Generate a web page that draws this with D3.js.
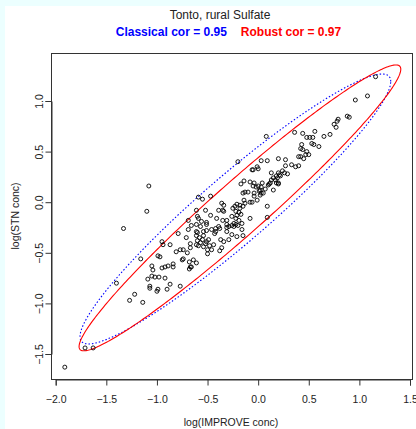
<!DOCTYPE html>
<html>
<head>
<meta charset="utf-8">
<script src="https://cdn.jsdelivr.net/npm/d3@7"></script>
<style>
  body { margin: 0; background: #ecffff; }
  text { font-family: "Liberation Sans", Arial, sans-serif; fill: #222; }
</style>
</head>
<body>
<div id="chart"></div>
<script>
// log(IMPROVE conc) values
const xs = [1.16,1.08,0.96,0.88,0.90,0.79,0.78,0.75,0.77,0.71,0.65,0.56,0.44,0.36,0.51,0.54,0.48,0.08,0.55,0.53,
  0.60,0.43,0.42,0.44,0.48,0.47,0.40,0.42,0.50,0.45,0.20,0.27,0.27,0.33,0.37,0.40,0.03,0.09,-0.20,-0.05,
  0.00,0.13,0.20,0.24,0.26,0.29,0.22,0.18,0.15,0.19,0.12,0.11,0.13,0.20,0.04,0.00,-0.04,-0.14,-0.17,0.03,
  0.01,0.03,0.07,0.15,0.09,-0.13,-0.10,-0.04,-0.04,-0.08,-0.14,-0.18,-0.23,-0.25,-0.18,-0.19,-0.22,-0.21,-0.26,-0.35,
  -0.34,-0.47,-0.55,-0.47,-0.41,-0.08,-1.08,-0.59,-1.10,-0.59,-0.21,-0.15,0.09,-0.22,-0.31,-0.35,-0.51,-0.51,-0.46,-0.42,
  -0.38,-0.31,-0.24,-0.22,-0.20,-0.24,-0.31,-0.42,-0.43,-0.54,-0.37,-0.34,-0.44,-0.49,-0.48,-0.50,-0.57,-0.16,-0.15,-0.36,
  -0.57,-0.95,-0.97,-0.92,-0.89,-0.84,-0.84,-0.92,-0.79,-0.71,-0.77,-0.74,-0.75,-0.67,-0.68,-0.64,-0.66,-0.61,-0.58,-0.60,
  -0.55,-0.59,-0.54,-0.52,-0.50,-0.46,-0.39,-0.38,-0.29,-0.31,-0.26,-0.17,-0.19,-0.16,-0.26,-0.21,-0.29,-0.15,-0.13,-0.06,
  -0.01,-0.08,-0.05,-0.02,0.02,0.02,0.05,0.10,0.17,0.18,0.20,0.21,-0.01,-0.06,-0.36,-0.39,-0.54,-0.56,-0.51,-0.66,
  -0.69,-0.60,-0.34,-0.61,-0.52,-0.69,-0.81,-0.87,-0.94,-1.33,-0.61,-0.60,-0.70,-0.67,-0.61,-0.61,-0.51,-0.99,-1.16,-1.05,
  -1.04,-0.95,-0.74,-0.67,-0.68,-0.61,-1.05,-1.09,-1.02,-0.98,-1.40,-1.07,-1.07,-0.99,-1.00,-0.87,-0.90,-0.77,-1.22,-1.27,
  -1.14,-1.71,-1.63,-1.91];
// log(STN conc) values, same order
const ys = [1.24,1.05,1.01,0.85,0.84,0.82,0.80,0.77,0.74,0.67,0.65,0.70,0.68,0.69,0.64,0.64,0.64,0.65,0.57,0.58,
  0.55,0.57,0.53,0.52,0.50,0.47,0.45,0.45,0.47,0.43,0.43,0.42,0.36,0.37,0.35,0.36,0.41,0.41,0.40,0.32,
  0.33,0.29,0.29,0.31,0.29,0.28,0.26,0.26,0.24,0.24,0.19,0.18,0.22,0.19,0.19,0.16,0.19,0.21,0.18,0.15,
  0.11,0.09,0.13,0.12,-0.04,0.10,0.10,0.09,0.06,0.00,0.02,-0.03,-0.04,-0.06,-0.06,-0.10,-0.09,-0.13,-0.14,-0.08,
  -0.03,0.06,0.03,-0.13,-0.16,-0.16,0.16,0.05,-0.09,-0.16,-0.02,-0.04,-0.15,-0.16,-0.18,-0.18,-0.22,-0.28,-0.27,-0.26,
  -0.26,-0.22,-0.21,-0.22,-0.23,-0.24,-0.25,-0.29,-0.31,-0.33,-0.37,-0.39,-0.42,-0.37,-0.43,-0.47,-0.40,-0.27,-0.33,-0.45,
  -0.24,-0.39,-0.54,-0.64,-0.63,-0.61,-0.64,-0.75,-0.31,-0.35,-0.47,-0.47,-0.57,-0.45,-0.59,-0.57,-0.64,-0.33,-0.35,-0.38,
  -0.37,-0.43,-0.44,-0.41,-0.51,-0.47,-0.24,-0.48,-0.24,-0.29,-0.23,-0.12,-0.18,-0.21,-0.32,-0.34,-0.37,0.09,-0.01,0.00,
  0.02,0.20,0.16,0.15,0.12,0.07,0.09,0.17,0.22,0.19,0.18,0.27,0.35,0.32,-0.01,-0.08,-0.29,-0.19,-0.20,-0.23,
  -0.27,-0.30,-0.09,-0.08,-0.08,-0.18,-0.49,-0.42,-0.42,-0.26,-0.22,-0.14,-0.50,-0.41,-0.42,-0.29,-0.39,-0.53,-0.56,-0.63,
  -0.67,-0.65,-0.56,-0.64,-0.66,-0.60,-0.73,-0.76,-0.74,-0.74,-0.80,-0.83,-0.85,-0.86,-0.88,-0.81,-0.86,-0.83,-0.91,-0.97,
  -0.99,-1.44,-1.44,-1.63];

// 97.5% tolerance ellipses: [classical, robust]
const ellNames = ["Classical", "Robust"];
const ellColors = ["#0000ff", "#ff0000"];
const ellCorLabel = ["0.95", "0.97"];
const ellCorr = [0.945, 0.97];   // shape of the drawn ellipse
const ellMeanX = [-0.225, -0.18];
const ellMeanY = [-0.067, -0.056];
const ellSdX = [0.565, 0.585];
const ellSdY = [0.491, 0.52];

const xTicks = [-2.0, -1.5, -1.0, -0.5, 0.0, 0.5, 1.0, 1.5];
const yTicks = [-1.5, -1.0, -0.5, 0.0, 0.5, 1.0];

const W = 416, H = 429;
const box = {left: 51, top: 53, right: 412, bottom: 379};

let svg = d3.select("#chart").append("svg")
    .attr("width", W)
    .attr("height", H);

svg.append("rect").attr("width", W).attr("height", H).attr("fill", "#ecffff");
svg.append("rect").attr("x", 5).attr("y", 6).attr("width", W - 5).attr("height", H - 6).attr("fill", "#fff");

let x = d3.scaleLinear().domain([-2, 1.5]).range([55.7, 410]);
let y = d3.scaleLinear().domain([-1.5, 1]).range([354, 101]);

// ellipse outlines
const c = Math.sqrt(7.3778);  // sqrt(qchisq(0.975, 2))
let line = d3.line().x(d => x(d[0])).y(d => y(d[1]));
ellNames.forEach((name, i) => {
  let r = ellCorr[i];
  let pts = d3.range(0, 361).map(k => {
    let t = k * Math.PI / 180;
    return [ellMeanX[i] + c * ellSdX[i] * Math.cos(t),
            ellMeanY[i] + c * ellSdY[i] * (r * Math.cos(t) + Math.sqrt(1 - r * r) * Math.sin(t))];
  });
  svg.append("path")
    .attr("d", line(pts))
    .attr("fill", "none")
    .attr("stroke", ellColors[i])
    .attr("stroke-width", 1.1)
    .attr("stroke-dasharray", i === 0 ? "1.5,2" : null);
});

// points
svg.selectAll(".pt")
    .data(xs.map((v, i) => [v, ys[i]]))
  .enter()
    .append("circle")
    .attr("cx", d => x(d[0]))
    .attr("cy", d => y(d[1]))
    .attr("r", 2)
    .attr("fill", "none")
    .attr("stroke", "#000")
    .attr("stroke-width", 0.9);

// box
svg.append("rect")
    .attr("x", box.left + 0.5).attr("y", box.top + 0.5)
    .attr("width", box.right - box.left).attr("height", box.bottom - box.top)
    .attr("fill", "none").attr("stroke", "#333");

// x axis
let gx = svg.append("g").attr("transform", "translate(0," + (box.bottom + 0.5) + ")")
    .call(d3.axisBottom(x).tickValues(xTicks).tickFormat(d3.format(".1f")).tickSizeOuter(0).tickSize(6).tickPadding(10));
gx.selectAll("text").style("font-size", "10.5px").attr("fill", "#222");
gx.selectAll("line, path").attr("stroke", "#333");

// y axis
let gy = svg.append("g").attr("transform", "translate(" + (box.left + 0.5) + ",0)")
    .call(d3.axisLeft(y).tickValues(yTicks).tickFormat(d3.format(".1f")).tickSizeOuter(0).tickSize(6));
gy.selectAll("line, path").attr("stroke", "#333");
gy.selectAll("text")
    .style("font-size", "10.5px")
    .attr("fill", "#222")
    .attr("x", null).attr("dy", null)
    .attr("text-anchor", "middle")
    .attr("transform", "translate(-9,0) rotate(-90)");

// titles
svg.append("text").attr("x", 220).attr("y", 18.5).attr("text-anchor", "middle")
    .style("font-size", "12px").text("Tonto, rural Sulfate");
let sub = svg.append("text").attr("x", 228.5).attr("y", 36).attr("text-anchor", "middle")
    .style("font-size", "12px").style("font-weight", "bold");
sub.append("tspan").style("fill", ellColors[0]).text(ellNames[0] + " cor = " + ellCorLabel[0]);
sub.append("tspan").attr("dx", 14).style("fill", ellColors[1]).text(ellNames[1] + " cor = " + ellCorLabel[1]);

svg.append("text").attr("x", 231).attr("y", 426).attr("text-anchor", "middle")
    .style("font-size", "10.5px").text("log(IMPROVE conc)");
svg.append("text").attr("transform", "translate(19,216) rotate(-90)").attr("text-anchor", "middle")
    .style("font-size", "10.5px").text("log(STN conc)");
</script>
</body>
</html>
